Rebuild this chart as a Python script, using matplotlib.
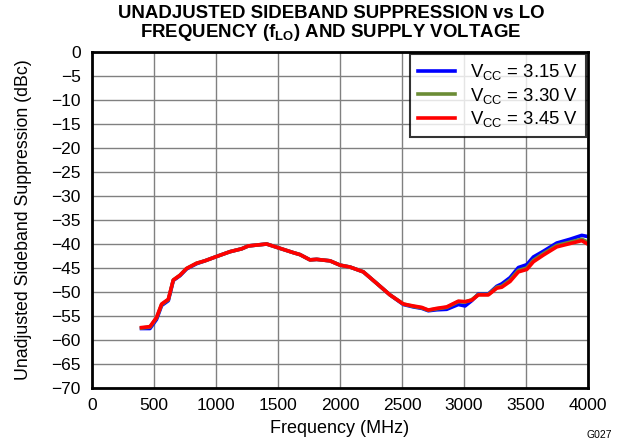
import matplotlib
matplotlib.use("Agg")
import matplotlib.pyplot as plt

plt.rcParams["font.family"] = ["Liberation Sans", "DejaVu Sans"]
plt.rcParams["mathtext.fontset"] = "custom"
plt.rcParams["mathtext.rm"] = "Liberation Sans"
plt.rcParams["mathtext.bf"] = "Liberation Sans:bold"

# Data
freq = [400, 468, 521, 562, 616, 656, 710, 763, 844, 911, 1005, 1113, 1207,
        1261, 1409, 1516, 1624, 1677, 1758, 1812, 1919, 2000, 2081, 2188,
        2296, 2403, 2511, 2591, 2659, 2712, 2780, 2860, 2954, 3008, 3062,
        3116, 3196, 3264, 3304, 3371, 3438, 3506, 3559, 3640, 3747, 3855,
        3949, 3989]
vcc_345 = [-57.4, -57.2, -55.3, -52.5, -51.5, -47.5, -46.5, -45.1, -44.0,
           -43.5, -42.6, -41.6, -41.0, -40.4, -40.0, -40.9, -41.8, -42.2,
           -43.3, -43.2, -43.5, -44.4, -44.8, -45.8, -48.2, -50.6, -52.5,
           -52.9, -53.2, -53.75, -53.4, -53.1, -51.9, -52.0, -51.7, -50.6,
           -50.6, -49.2, -49.0, -47.8, -45.8, -45.3, -43.7, -42.3, -40.6,
           -39.9, -39.3, -39.9]
vcc_330 = [-57.5, -57.3, -55.4, -52.6, -51.6, -47.5, -46.5, -45.1, -44.0,
           -43.5, -42.6, -41.6, -41.0, -40.4, -40.0, -40.9, -41.8, -42.2,
           -43.3, -43.2, -43.5, -44.4, -44.8, -45.8, -48.2, -50.6, -52.5,
           -53.0, -53.3, -53.8, -53.5, -53.2, -52.0, -52.1, -51.6, -50.5,
           -50.5, -49.0, -48.8, -47.5, -45.5, -45.0, -43.4, -42.0, -40.3,
           -39.6, -39.0, -39.5]
vcc_315 = [-57.6, -57.6, -55.7, -52.8, -51.8, -47.6, -46.6, -45.2, -44.1,
           -43.5, -42.6, -41.6, -41.0, -40.4, -40.0, -40.9, -41.8, -42.2,
           -43.3, -43.2, -43.5, -44.4, -44.8, -45.8, -48.2, -50.6, -52.6,
           -53.1, -53.4, -53.9, -53.7, -53.6, -52.6, -52.9, -51.8, -50.4,
           -50.4, -48.8, -48.3, -47.0, -44.9, -44.3, -42.7, -41.5, -39.8,
           -39.0, -38.2, -38.4]

series = [("3.15", vcc_315, "#0000ff"),
          ("3.30", vcc_330, "#6b8c35"),
          ("3.45", vcc_345, "#ff0000")]

fig = plt.figure(figsize=(6.21, 4.44), dpi=100)
ax = fig.add_axes([0.148, 0.126, 0.799, 0.757])

for volts, vals, color in series:
    ax.plot(freq, vals, color=color, linewidth=2.6,
            label=r"V$_{\mathrm{CC}}$ = " + volts + " V")

ax.set_xlim(0, 4000)
ax.set_ylim(-70, 0)
ax.set_xticks(range(0, 4001, 500))
ax.set_yticks(range(-70, 1, 5))
ax.set_yticklabels([("\u2212" + str(-v)) if v < 0 else str(v)
                    for v in range(-70, 1, 5)])
ax.grid(True, color="#808080", linewidth=1.0)
ax.tick_params(labelsize=12.5, length=0)
ax.tick_params(axis="y", pad=8)
ax.tick_params(axis="x", pad=7)
for sp in ax.spines.values():
    sp.set_color("black")
    sp.set_linewidth(2)

ax.set_xlabel("Frequency (MHz)", fontsize=13, labelpad=5)
ax.set_ylabel("Unadjusted Sideband Suppression (dBc)", fontsize=12.8,
              labelpad=14)
fig.text(0.533, 0.988,
         "UNADJUSTED SIDEBAND SUPPRESSION vs LO\n"
         r"FREQUENCY (f$_{\mathbf{LO}}$) AND SUPPLY VOLTAGE",
         ha="center", va="top", fontsize=13.4, fontweight="bold",
         linespacing=0.95)
fig.text(0.985, 0.01, "G027", ha="right", va="bottom", fontsize=7.5)

leg = ax.legend(loc="upper right", fontsize=13.3, frameon=True, fancybox=False,
                borderaxespad=0.1, handlelength=2.0, labelspacing=0.19,
                borderpad=0.45, handletextpad=0.8)
leg.get_frame().set_edgecolor("black")
leg.get_frame().set_linewidth(1.5)

fig.savefig("out.png", dpi=100)
